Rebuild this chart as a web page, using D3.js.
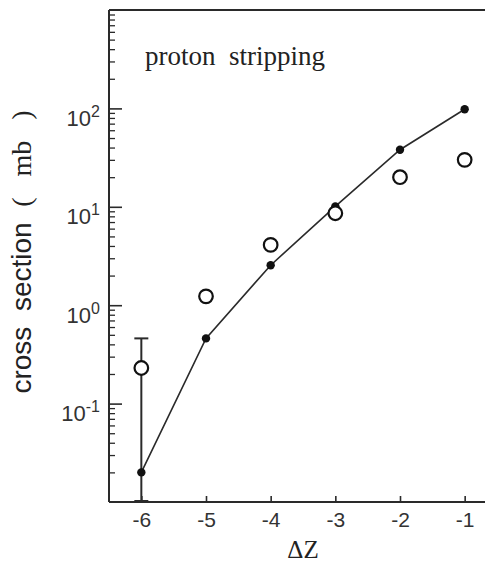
<!DOCTYPE html>
<html>
<head>
<meta charset="utf-8">
<script src="https://cdn.jsdelivr.net/npm/d3@7"></script>
<style>
  body { margin: 0; background: #fff; }
  svg { display: block; }
</style>
</head>
<body>
<svg id="graph"></svg>
<script>
// data
let dz = [-6, -5, -4, -3, -2, -1];
let calc = [0.02, 0.46, 2.55, 10.1, 38, 98];     // filled dots joined by line
let expt = [0.23, 1.23, 4.1, 8.6, 20, 30];      // open circles
let errHi = [0.46, null, null, null, null, null];
let errLo = [0.01, null, null, null, null, null];
let yMajor = [0.1, 1, 10, 100];
let yMinor = [];
[0.01, 0.1, 1, 10, 100].forEach(p => { for (let k = 2; k <= 9; k++) yMinor.push(p * k); });

let w = 485;
let h = 564;
let leftmargin = 109;
let topmargin = 10;
let rightx = 497;
let bottomy = 502;

let xscale = d3.scaleLinear().domain([-6.5, -0.5]).range([leftmargin, rightx]);
let yscale = d3.scaleLog().domain([0.01, 1000]).range([bottomy, topmargin]);

let graph = d3.select("#graph").attr("width", w).attr("height", h);

let ink = "#2a2a2a";

// minor y ticks
let yminor = d3.axisLeft(yscale).tickValues(yMinor).tickSize(-6).tickFormat("");
graph.append("g").attr("transform", `translate(${leftmargin},0)`).call(yminor)
  .call(g => g.select(".domain").remove())
  .call(g => g.selectAll("line").attr("stroke", ink).attr("stroke-width", 1.3));

// major y ticks with 10^n labels
let ymajor = d3.axisLeft(yscale).tickValues(yMajor).tickSize(-13).tickPadding(9);
let ya = graph.append("g").attr("transform", `translate(${leftmargin},0)`).call(ymajor);
ya.select(".domain").remove();
ya.selectAll("line").attr("stroke", ink).attr("stroke-width", 1.6);
ya.selectAll(".tick text")
  .text(null)
  .attr("dy", 17)
  .style("font-family", "'Liberation Sans', Arial, sans-serif")
  .style("font-size", "22px")
  .attr("fill", "#333")
  .each(function(d) {
    let t = d3.select(this);
    t.append("tspan").text("10");
    t.append("tspan").text(Math.round(Math.log10(d))).attr("dy", -9).style("font-size", "16px");
  });

// x axis
let xaxis = d3.axisBottom(xscale).tickValues(dz).tickSize(-6).tickPadding(10).tickFormat(d => "-" + Math.abs(d));
let xa = graph.append("g").attr("transform", `translate(0,${bottomy})`).call(xaxis);
xa.select(".domain").remove();
xa.selectAll("line").attr("stroke", ink).attr("stroke-width", 1.6);
xa.selectAll("text")
  .style("font-family", "'Liberation Sans', Arial, sans-serif")
  .style("font-size", "21px")
  .attr("fill", "#333");

// frame: left, bottom and top lines
graph.append("line").attr("x1", leftmargin).attr("x2", leftmargin).attr("y1", topmargin).attr("y2", bottomy)
  .attr("stroke", ink).attr("stroke-width", 2);
graph.append("line").attr("x1", leftmargin).attr("x2", w).attr("y1", bottomy).attr("y2", bottomy)
  .attr("stroke", ink).attr("stroke-width", 2);
graph.append("line").attr("x1", leftmargin).attr("x2", w).attr("y1", topmargin).attr("y2", topmargin)
  .attr("stroke", ink).attr("stroke-width", 2);

// error bar
dz.forEach((d, i) => {
  if (errHi[i] == null) return;
  let x = xscale(d);
  graph.append("line").attr("x1", x).attr("x2", x).attr("y1", yscale(errHi[i])).attr("y2", yscale(errLo[i]))
    .attr("stroke", ink).attr("stroke-width", 2);
  graph.append("line").attr("x1", x - 7).attr("x2", x + 7).attr("y1", yscale(errHi[i])).attr("y2", yscale(errHi[i]))
    .attr("stroke", ink).attr("stroke-width", 2);
  graph.append("line").attr("x1", x - 7).attr("x2", x + 7).attr("y1", yscale(errLo[i]) - 1).attr("y2", yscale(errLo[i]) - 1)
    .attr("stroke", ink).attr("stroke-width", 2);
});

// calculation line
let line = d3.line().x((d, i) => xscale(dz[i])).y(d => yscale(d));
graph.append("path").datum(calc).attr("d", line)
  .attr("fill", "none").attr("stroke", ink).attr("stroke-width", 1.6);

graph.append("g").selectAll("circle").data(calc).enter().append("circle")
  .attr("cx", (d, i) => xscale(dz[i])).attr("cy", d => yscale(d)).attr("r", 4.2)
  .attr("fill", "#111");

// experimental points
graph.append("g").selectAll("circle").data(expt).enter().append("circle")
  .attr("cx", (d, i) => xscale(dz[i])).attr("cy", d => yscale(d)).attr("r", 6.8)
  .attr("fill", "#fff").attr("stroke", "#111").attr("stroke-width", 2.2);

// texts
graph.append("text").text("proton  stripping")
  .attr("x", 145).attr("y", 65)
  .style("white-space", "pre")
  .style("font-family", "'Liberation Serif', 'Times New Roman', serif")
  .style("font-size", "27px").attr("fill", "#222");

graph.append("text").text("ΔZ")
  .attr("x", (leftmargin + rightx) / 2).attr("y", 558).attr("text-anchor", "middle")
  .style("font-family", "'Liberation Serif', 'Times New Roman', serif")
  .style("font-size", "25px").attr("fill", "#222");

let ylab = graph.append("text")
  .attr("transform", "translate(31,252) rotate(-90)")
  .attr("text-anchor", "middle")
  .attr("fill", "#222");
ylab.append("tspan").text("cross\u00a0\u00a0section\u00a0\u00a0")
  .style("font-family", "'Liberation Sans', Arial, sans-serif").style("font-size", "28px");
ylab.append("tspan").text("(\u00a0\u00a0\u00a0mb\u00a0\u00a0\u00a0)")
  .style("font-family", "'Liberation Serif', 'Times New Roman', serif").style("font-size", "28px");
</script>
</body>
</html>
